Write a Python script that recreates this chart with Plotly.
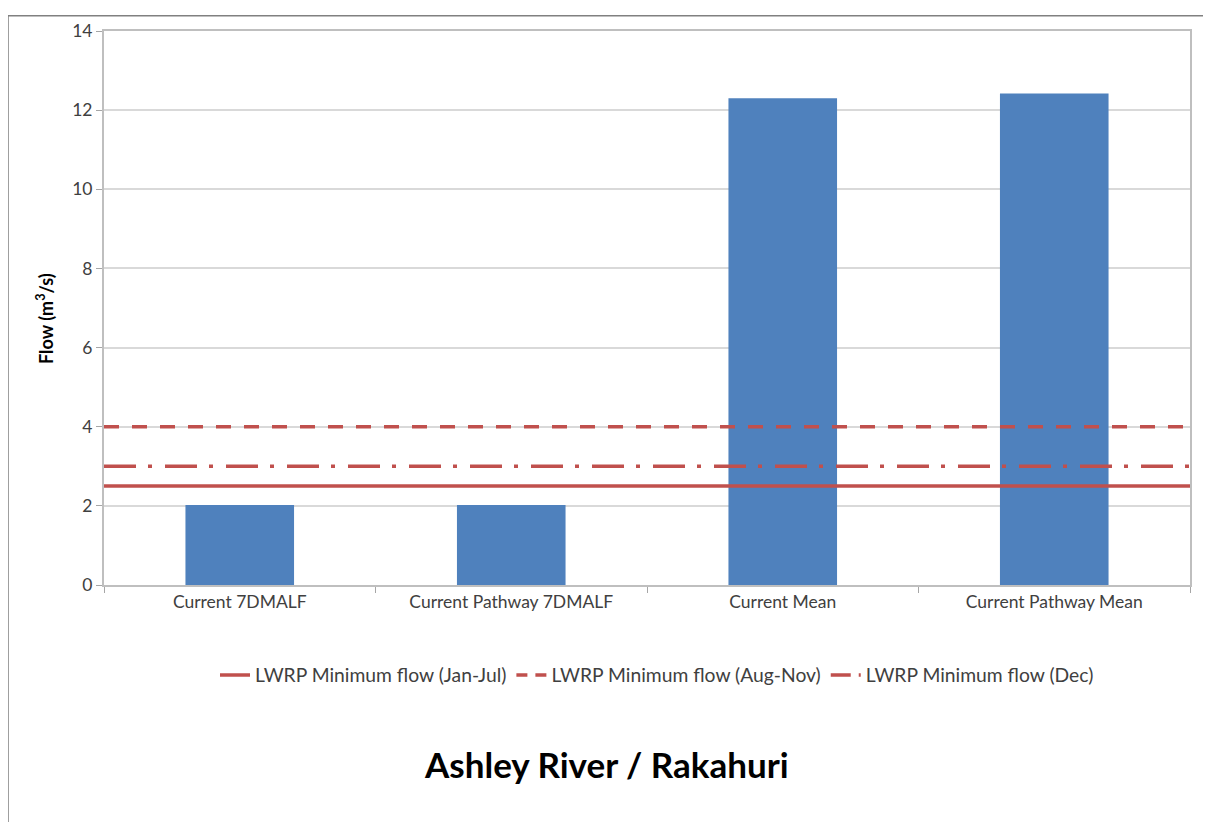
import plotly.graph_objects as go

categories = ["Current 7DMALF", "Current Pathway 7DMALF", "Current Mean", "Current Pathway Mean"]
flows = [2.02, 2.02, 12.3, 12.42]

line_names = ["LWRP Minimum flow (Jan-Jul)", "LWRP Minimum flow (Aug-Nov)", "LWRP Minimum flow (Dec)"]
line_values = [2.5, 4.0, 3.0]
line_dashes = ["solid", "15px,13px", "32px,12px,4px,13px"]
legend_dashes = ["solid", "11px,8px", "20px,8px,3px,20px"]

y_ticks = [0, 2, 4, 6, 8, 10, 12, 14]

FONT = "Lato, 'Open Sans', sans-serif"
RED = "#C0504D"
BLUE = "#4F81BD"

# page body adds an offset; compensate so the plot lands where the reference has it
OFF = 8
W, H = 1211 - OFF, 822 - OFF
L, R, T, B = 104 - OFF, 21, 16, 237
PW, PH = W - L - R, H - T - B

# reference plot area in screenshot pixels
REF_L, REF_R, REF_T, REF_B = 104, 1190, 27, 585


def rx(px):
    return (px - REF_L) / (REF_R - REF_L)


def ry(py):
    return (REF_B - py) / (REF_B - REF_T)


fig = go.Figure()
fig.add_trace(go.Bar(x=categories, y=flows, marker=dict(color=BLUE, line=dict(width=0)),
                     width=0.4, showlegend=False))

for name, val, dash in zip(line_names, line_values, line_dashes):
    fig.add_trace(go.Scatter(x=[0, 1], y=[val, val], mode="lines", name=name,
                             line=dict(color=RED, width=3.5, dash=dash), xaxis="x2",
                             showlegend=False, legendgroup=name))
for name, dash in zip(line_names, legend_dashes):
    fig.add_trace(go.Scatter(x=[None], y=[None], mode="lines", name=name,
                             line=dict(color=RED, width=3.5, dash=dash), xaxis="x2",
                             legendgroup=name))

fig.update_layout(
    width=W, height=H,
    margin=dict(l=L, r=R, t=T, b=B),
    paper_bgcolor="white", plot_bgcolor="white",
    font=dict(family=FONT, color="#404040", size=17),
    xaxis=dict(showgrid=False, showline=True, linecolor="#BFBFBF", linewidth=1.5,
               ticks="outside", tickson="boundaries", ticklen=6, tickcolor="#A6A6A6",
               tickfont=dict(size=17.5, color="#404040"), mirror=True),
    xaxis2=dict(overlaying="x", range=[0, 1], visible=False, showgrid=False),
    yaxis=dict(range=[0, 14], tickvals=y_ticks, showgrid=True, gridcolor="#D9D9D9",
               gridwidth=2, showline=True, linecolor="#BFBFBF", linewidth=2,
               ticks="outside", ticklen=6, tickcolor="#A6A6A6", mirror=True,
               tickfont=dict(size=17.5, color="#404040"), zeroline=False),
    legend=dict(orientation="h", x=rx(657), xanchor="center", y=ry(676),
                yanchor="middle", font=dict(size=19.3, color="#404040"), tracegroupgap=0),
    bargap=0.6,
)

fig.add_annotation(text="<b>Flow (m<sup>3</sup>/s)</b>", xref="paper", yref="paper",
                   x=rx(45), y=ry(317), xanchor="center", yanchor="middle", textangle=-90,
                   showarrow=False, font=dict(size=18, color="#000000", family=FONT))

fig.add_annotation(text="<b>Ashley River / Rakahuri</b>", xref="paper", yref="paper",
                   x=rx(606), y=ry(765), xanchor="center", yanchor="middle",
                   showarrow=False, font=dict(size=35, color="#000000", family=FONT))

fig.add_shape(type="rect", xref="paper", yref="paper", x0=-L / PW, x1=1.2, y0=-0.6,
              y1=1.0 + (T - 0.5) / PH, line=dict(color="#808080", width=1.5), layer="below")

fig.write_html("out.html")
